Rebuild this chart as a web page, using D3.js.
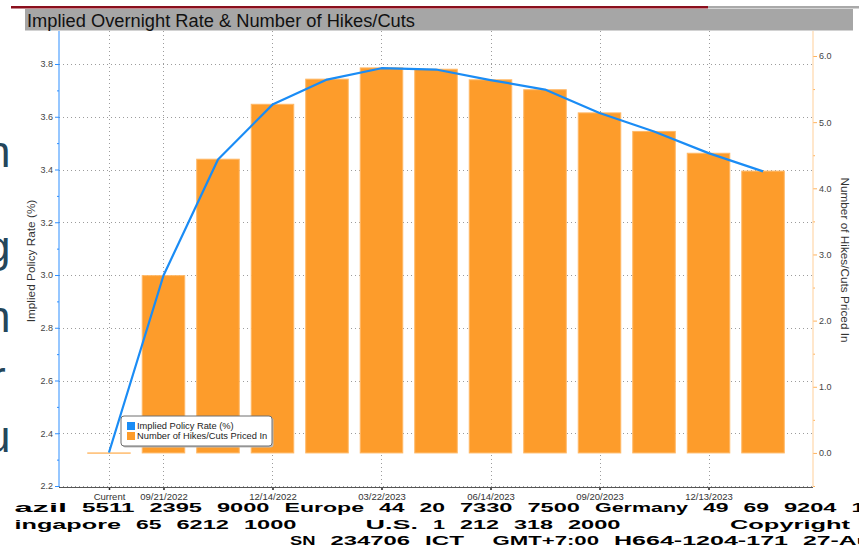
<!DOCTYPE html>
<html>
<head>
<meta charset="utf-8">
<title>Implied Overnight Rate & Number of Hikes/Cuts</title>
<script src="https://cdn.jsdelivr.net/npm/d3@7"></script>
<style>
  html, body { margin: 0; padding: 0; background: #fff; }
  svg { display: block; }
  text { font-family: "Liberation Sans", Arial, sans-serif; }
</style>
</head>
<body>
<svg id="chart" width="859" height="548"></svg>
<script>
// meeting dates (first one is the current rate)
const dates = ['Current', '09/21/2022', '11/02/2022', '12/14/2022', '02/01/2023', '03/22/2023', '05/03/2023',
  '06/14/2023', '07/26/2023', '09/20/2023', '11/01/2023', '12/13/2023', '01/31/2024']
const dateTicks = ['Current', '09/21/2022', '12/14/2022', '03/22/2023', '06/14/2023', '09/20/2023', '12/13/2023']

// implied policy rate (%), left axis
const impliedRate = [2.327, 2.998, 3.438, 3.646, 3.741, 3.784, 3.779, 3.739, 3.703, 3.614, 3.544, 3.462, 3.393]
// number of hikes/cuts priced in, right axis
const hikesCuts = [0.0, 2.68, 4.44, 5.27, 5.65, 5.82, 5.80, 5.64, 5.49, 5.14, 4.86, 4.53, 4.26]

const rateTicks = [2.2, 2.4, 2.6, 2.8, 3.0, 3.2, 3.4, 3.6, 3.8]
const rateMinor = [2.3, 2.5, 2.7, 2.9, 3.1, 3.3, 3.5, 3.7]
const hikeTicks = [0, 1, 2, 3, 4, 5, 6]
const hikeMinor = [-0.5, 0.5, 1.5, 2.5, 3.5, 4.5, 5.5]

const footer = [
  'azil 5511 2395 9000 Europe 44 20 7330 7500 Germany 49 69 9204 1210',
  'ingapore 65 6212 1000     U.S. 1 212 318 2000        Copyright 2022 Bloomberg',
  'SN 234706 ICT  GMT+7:00 H664-1204-171 27-Aug-2022'
]
const ghostLetters = ['n', 'g', 'n', 'r', 'u']

const svg = d3.select('#chart')
const plotLeft = 59, plotRight = 813, plotTop = 31, plotBottom = 487

const x = d3.scalePoint().domain(dates).range([plotLeft, plotRight]).padding(0.917)
const yL = d3.scaleLinear().domain([2.2, 3.8]).range([486, 64])
const yR = d3.scaleLinear().domain([-0.5, 6]).range([486, 56])
const barW = x.step() * 0.78

// faint glyphs of a window behind, cut at the left edge
svg.append('g').selectAll('text')
  .data(ghostLetters)
  .join('text')
  .attr('x', (d, i) => i === 3 ? -9 : -14)
  .attr('y', (d, i) => [167, 262, 332, 392, 452][i])
  .attr('font-family', 'Lato')
  .attr('font-weight', 300)
  .attr('font-size', 44)
  .attr('fill', '#24465b')
  .text(d => d)

// title bar
svg.append('rect').attr('x', 11).attr('y', 6).attr('width', 697).attr('height', 2.5).attr('fill', '#8b0f1d')
svg.append('rect').attr('x', 708).attr('y', 6).attr('width', 151).attr('height', 2.5).attr('fill', '#a9a9a9')
svg.append('rect').attr('x', 25).attr('y', 9).attr('width', 828).attr('height', 21.5).attr('fill', '#a6a6a6')
svg.append('text')
  .attr('x', 27).attr('y', 26.5)
  .attr('font-family', 'Noto Sans')
  .attr('font-size', 17.5)
  .attr('fill', '#111')
  .attr('textLength', 388)
  .attr('lengthAdjust', 'spacingAndGlyphs')
  .text('Implied Overnight Rate & Number of Hikes/Cuts')

// gridlines
const grid = svg.append('g').attr('stroke', '#9c9c9c').attr('stroke-dasharray', '1,3').attr('stroke-width', 1)
grid.selectAll('.h').data(rateTicks).join('line').attr('class', 'h')
  .attr('x1', plotLeft).attr('x2', plotRight)
  .attr('y1', d => Math.round(yL(d)) + 0.5).attr('y2', d => Math.round(yL(d)) + 0.5)
grid.selectAll('.v').data(dateTicks).join('line').attr('class', 'v')
  .attr('x1', d => Math.round(x(d)) + 0.5).attr('x2', d => Math.round(x(d)) + 0.5)
  .attr('y1', plotTop).attr('y2', plotBottom)

// bars
svg.append('g').selectAll('rect')
  .data(dates)
  .join('rect')
  .attr('x', d => x(d) - barW / 2)
  .attr('y', (d, i) => yR(hikesCuts[i]))
  .attr('width', barW)
  .attr('height', (d, i) => Math.max(yR(0) - yR(hikesCuts[i]), 0.3))
  .attr('fill', '#fd9c2b')
  .attr('stroke', '#ffb866')
  .attr('stroke-width', 1)

// implied rate line
const line = d3.line()
  .x((d, i) => x(dates[i]))
  .y(d => yL(d))
svg.append('path')
  .datum(impliedRate)
  .attr('fill', 'none')
  .attr('stroke', '#1a8cf5')
  .attr('stroke-width', 2.2)
  .attr('stroke-linejoin', 'round')
  .attr('d', line)

// left axis
const gL = svg.append('g').attr('transform', `translate(${plotLeft},0)`)
gL.call(d3.axisLeft(yL).tickValues(rateTicks).tickFormat(d3.format('.1f')).tickSize(4).tickPadding(2))
gL.append('g').call(d3.axisLeft(yL).tickValues(rateMinor).tickFormat('').tickSize(2))
gL.selectAll('.domain').remove()
gL.selectAll('line').attr('stroke', '#2f8fff')
gL.selectAll('text').attr('font-size', 9).attr('fill', '#444')
gL.append('line').attr('x1', 0).attr('x2', 0).attr('y1', plotTop).attr('y2', plotBottom).attr('stroke', '#2f8fff')

// right axis
const gR = svg.append('g').attr('transform', `translate(${plotRight},0)`)
gR.call(d3.axisRight(yR).tickValues(hikeTicks).tickFormat(d3.format('.1f')).tickSize(4).tickPadding(2))
gR.append('g').call(d3.axisRight(yR).tickValues(hikeMinor).tickFormat('').tickSize(2))
gR.selectAll('.domain').remove()
gR.selectAll('line').attr('stroke', '#ffb35c')
gR.selectAll('text').attr('font-size', 9).attr('fill', '#444')
gR.append('line').attr('x1', 0).attr('x2', 0).attr('y1', plotTop).attr('y2', plotBottom).attr('stroke', '#ffcf99')

// bottom axis
const gX = svg.append('g').attr('transform', `translate(0,${plotBottom})`)
gX.call(d3.axisBottom(x).tickValues(dateTicks).tickSize(3).tickPadding(3))
gX.selectAll('.domain').remove()
gX.selectAll('line').attr('stroke', '#222').attr('stroke-width', 1.5)
gX.selectAll('text').attr('font-size', 9.5).attr('fill', '#333')
gX.append('line').attr('x1', plotLeft).attr('x2', plotRight).attr('y1', 0.5).attr('y2', 0.5).attr('stroke', '#555')

// axis titles
svg.append('text')
  .attr('transform', 'translate(35,261) rotate(-90)')
  .attr('text-anchor', 'middle')
  .attr('font-size', 11.8)
  .attr('fill', '#333')
  .text('Implied Policy Rate (%)')
svg.append('text')
  .attr('transform', 'translate(841,260) rotate(90)')
  .attr('text-anchor', 'middle')
  .attr('font-size', 11.8)
  .attr('fill', '#333')
  .text('Number of Hikes/Cuts Priced In')

// legend
const legend = svg.append('g').attr('transform', 'translate(121,416)')
legend.append('rect').attr('x', 1.5).attr('y', 1.5).attr('width', 151).attr('height', 30).attr('rx', 3).attr('fill', '#bbb')
legend.append('rect').attr('width', 151).attr('height', 30).attr('rx', 3).attr('fill', '#fff').attr('stroke', '#6f6f6f')
const items = [['Implied Policy Rate (%)', '#1a8cf5'], ['Number of Hikes/Cuts Priced In', '#fd9c2b']]
items.forEach(([label, color], i) => {
  legend.append('rect').attr('x', 6).attr('y', 6 + i * 10).attr('width', 8).attr('height', 8).attr('fill', color)
  legend.append('text').attr('x', 16).attr('y', 13 + i * 10).attr('font-size', 9.3).attr('fill', '#222').text(label)
})

// footer: terminal-style monospace, each word placed on its own column
const cell = 13.5
footer.forEach((row, r) => {
  const x0 = r === 2 ? 290 : 14.5
  const words = []
  row.replace(/\S+/g, (w, idx) => { words.push({ w, idx }) })
  svg.append('g').selectAll('text')
    .data(words)
    .join('text')
    .attr('x', d => x0 + d.idx * cell)
    .attr('y', [512, 529, 545][r])
    .attr('font-family', 'DejaVu Sans Mono')
    .attr('font-weight', 'bold')
    .attr('font-size', 13)
    .attr('fill', '#000')
    .attr('textLength', d => d.w.length * cell - 1.5)
    .attr('lengthAdjust', 'spacingAndGlyphs')
    .text(d => d.w)
})
</script>
</body>
</html>
